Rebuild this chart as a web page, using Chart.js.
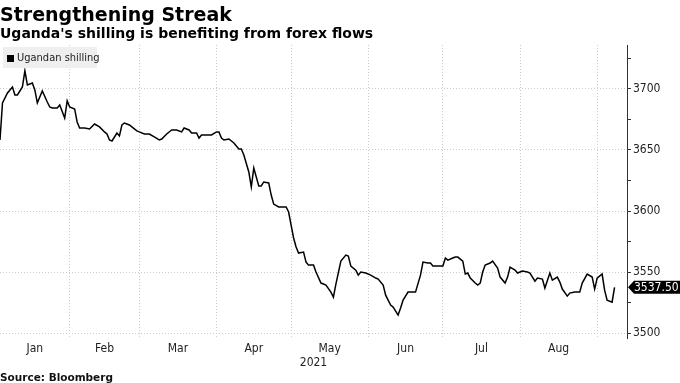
<!DOCTYPE html>
<html><head><meta charset="utf-8">
<script src="https://cdn.jsdelivr.net/npm/chart.js@4.4.0/dist/chart.umd.min.js"></script>
<style>
html,body{margin:0;padding:0;background:#fff;}
#wrap{position:relative;width:680px;height:383px;overflow:hidden;}
#c{position:absolute;left:0;top:0;}
.t{position:absolute;left:0;white-space:nowrap;font-family:'DejaVu Sans',sans-serif;font-weight:bold;color:#000;line-height:normal;}
#title{top:3px;font-size:19px;}
#sub{top:25px;font-size:14px;}
#src{top:371px;font-size:10.5px;color:#111;}
#legend{position:absolute;left:3px;top:47px;width:94px;height:21px;background:#efefef;font-family:'DejaVu Sans Condensed','Liberation Sans Narrow','Liberation Sans',sans-serif;font-size:11px;color:#222;white-space:nowrap;}
#legend .sq{position:absolute;left:4px;top:8px;width:7px;height:7px;background:#000;}
#legend .lt{position:absolute;left:14px;top:4px;}
</style>
</head><body>
<div id="wrap">
<canvas id="c" width="680" height="383"></canvas>
<div class="t" id="title">Strengthening Streak</div>
<div class="t" id="sub">Uganda's shilling is benefiting from forex flows</div>
<div id="legend"><div class="sq"></div><div class="lt" id="legText"></div></div>
<div class="t" id="src">Source: Bloomberg</div>
</div>
<script>
// Days since 1 Jan 2021
const days = [3,4,6,8,9,10,12,13,14,16,17,18,20,22,23,24,26,27,29,30,31,33,34,35,37,39,41,43,45,46,47,48,50,51,52,53,55,56,58,59,61,63,65,67,68,70,72,74,76,77,79,80,82,83,84,86,88,90,91,92,93,95,97,99,100,101,103,104,105,107,108,109,111,112,113,115,117,118,119,120,121,122,123,125,126,127,129,130,132,133,134,136,137,138,140,142,143,144,146,147,148,150,152,154,155,157,158,160,161,163,164,165,167,169,170,172,173,175,176,177,179,181,182,183,185,186,187,189,190,191,192,194,195,196,197,198,200,201,203,204,206,207,208,210,211,213,215,216,218,219,221,222,224,225,227,228,229,231,232,234,236,237,239,241,242,243,245,246,247,249,250];
const shilling = [3658.2,3688.5,3696.7,3701.6,3695.1,3695.1,3701.6,3714.8,3703.3,3704.9,3699.2,3688.5,3698.4,3689.3,3685.2,3684.4,3684.4,3686.9,3676.2,3690.2,3685.2,3683.6,3673.0,3668.0,3668.0,3667.2,3671.3,3668.9,3664.8,3663.1,3658.2,3657.4,3663.9,3661.5,3670.5,3672.1,3670.5,3668.9,3665.6,3664.8,3663.1,3663.1,3660.7,3658.2,3659.0,3663.1,3666.4,3666.4,3664.8,3668.0,3666.4,3663.9,3663.9,3659.8,3662.3,3662.3,3662.3,3664.8,3664.8,3659.8,3658.2,3659.0,3655.7,3650.8,3650.8,3645.9,3632.0,3619.7,3635.2,3620.5,3620.5,3623.8,3623.0,3613.1,3605.7,3603.3,3603.3,3603.3,3599.2,3588.5,3577.9,3570.5,3565.6,3566.4,3558.2,3555.7,3555.7,3550.0,3541.0,3540.2,3539.3,3533.6,3529.5,3540.2,3559.0,3563.9,3563.1,3554.9,3551.6,3547.5,3550.0,3549.2,3547.5,3545.1,3544.3,3539.3,3531.1,3523.0,3521.3,3514.8,3520.5,3527.0,3533.6,3533.6,3533.6,3547.5,3558.2,3557.4,3557.4,3554.9,3554.9,3554.9,3561.5,3559.8,3561.5,3562.3,3562.3,3559.0,3548.4,3549.2,3545.1,3541.0,3539.3,3541.0,3550.0,3555.7,3557.4,3559.0,3553.3,3545.9,3541.0,3545.9,3554.1,3551.6,3549.2,3550.8,3550.0,3549.2,3542.6,3545.1,3544.3,3536.9,3549.2,3543.4,3545.9,3541.8,3536.1,3530.3,3532.8,3533.6,3533.6,3541.0,3548.4,3545.9,3536.1,3545.1,3548.4,3535.2,3527.0,3525.4,3537.5];
const monthNames = ['Jan','Feb','Mar','Apr','May','Jun','Jul','Aug'];
const monthStarts = [0,31,59,90,120,151,181,212,243];
const yLabels = [3500,3550,3600,3650,3700];
const yearLabel = '2021';
const seriesName = 'Ugandan shilling';

document.getElementById('legText').textContent = seriesName;

const X_MIN = 3, X_MAX = 255, Y_MIN = 3496, Y_MAX = 3736;
const FAM = "'DejaVu Sans Condensed','Liberation Sans Narrow','Liberation Sans',sans-serif";
const GRID = '#cccccc';

const lastBadge = {
  id: 'lastBadge',
  afterDraw(chart) {
    const {ctx, chartArea, scales} = chart;
    const v = shilling[shilling.length - 1];
    const y = scales.y.getPixelForValue(v);
    const x0 = chartArea.right + 1;
    ctx.save();
    ctx.fillStyle = '#000';
    ctx.beginPath();
    ctx.moveTo(x0, y);
    ctx.lineTo(x0 + 6, y - 6.5);
    ctx.lineTo(680, y - 6.5);
    ctx.lineTo(680, y + 6.5);
    ctx.lineTo(x0 + 6, y + 6.5);
    ctx.closePath();
    ctx.fill();
    ctx.fillStyle = '#fff';
    ctx.font = '12px ' + FAM;
    ctx.textAlign = 'left';
    ctx.textBaseline = 'middle';
    ctx.fillText(v.toFixed(2), x0 + 6, y + 0.5);
    ctx.restore();
  }
};

new Chart(document.getElementById('c'), {
  type: 'line',
  data: {
    datasets: [{
      label: seriesName,
      data: days.map((d, i) => ({x: d, y: shilling[i]})),
      borderColor: '#000',
      borderWidth: 1.5,
      pointRadius: 0,
      tension: 0,
      fill: false,
      xAxisID: 'x',
      yAxisID: 'y'
    }]
  },
  options: {
    responsive: false,
    animation: false,
    devicePixelRatio: 1,
    layout: {padding: {top: 45, left: 0, right: 0, bottom: 0}},
    plugins: {legend: {display: false}, title: {display: false}, tooltip: {enabled: false}},
    scales: {
      x: {
        type: 'linear', position: 'bottom', min: X_MIN, max: X_MAX,
        afterBuildTicks: s => { s.ticks = monthStarts.filter(d => d > X_MIN && d < X_MAX).map(v => ({value: v})); },
        afterFit: s => { s.height = 0; },
        ticks: {display: false},
        grid: {color: GRID, lineWidth: 1, drawTicks: false},
        border: {display: false, dash: [1, 2]}
      },
      x2: {
        type: 'linear', position: 'bottom', min: X_MIN, max: X_MAX,
        afterBuildTicks: s => {
          s.ticks = monthNames.map((m, i) => ({value: (Math.max(monthStarts[i], X_MIN) + Math.min(monthStarts[i + 1], X_MAX)) / 2}));
        },
        afterFit: s => { s.height = 45; },
        grid: {display: false, drawTicks: false},
        border: {display: false},
        ticks: {
          autoSkip: false, maxRotation: 0, padding: 4,
          callback: (v, i) => monthNames[i],
          color: '#222', font: {family: FAM, size: 12}
        },
        title: {display: true, text: yearLabel, color: '#222', font: {family: FAM, size: 12}, padding: {top: 0, bottom: 13}}
      },
      y: {
        type: 'linear', position: 'right', min: Y_MIN, max: Y_MAX,
        afterBuildTicks: s => {
          const t = [];
          for (let v = Math.ceil(Y_MIN / 25) * 25; v <= Y_MAX; v += 25) t.push({value: v});
          s.ticks = t;
        },
        afterFit: s => { s.width = 53; },
        grid: {
          color: c => (c.tick && yLabels.includes(c.tick.value)) ? GRID : 'rgba(0,0,0,0)',
          tickColor: '#333', tickLength: 4, lineWidth: 1, tickWidth: 1
        },
        border: {display: true, color: '#333', width: 1, dash: [1, 2]},
        ticks: {
          autoSkip: false, padding: 2,
          callback: v => yLabels.includes(v) ? String(v) : '',
          color: '#222', font: {family: FAM, size: 12}
        }
      }
    }
  },
  plugins: [lastBadge]
});
</script>
</body></html>
